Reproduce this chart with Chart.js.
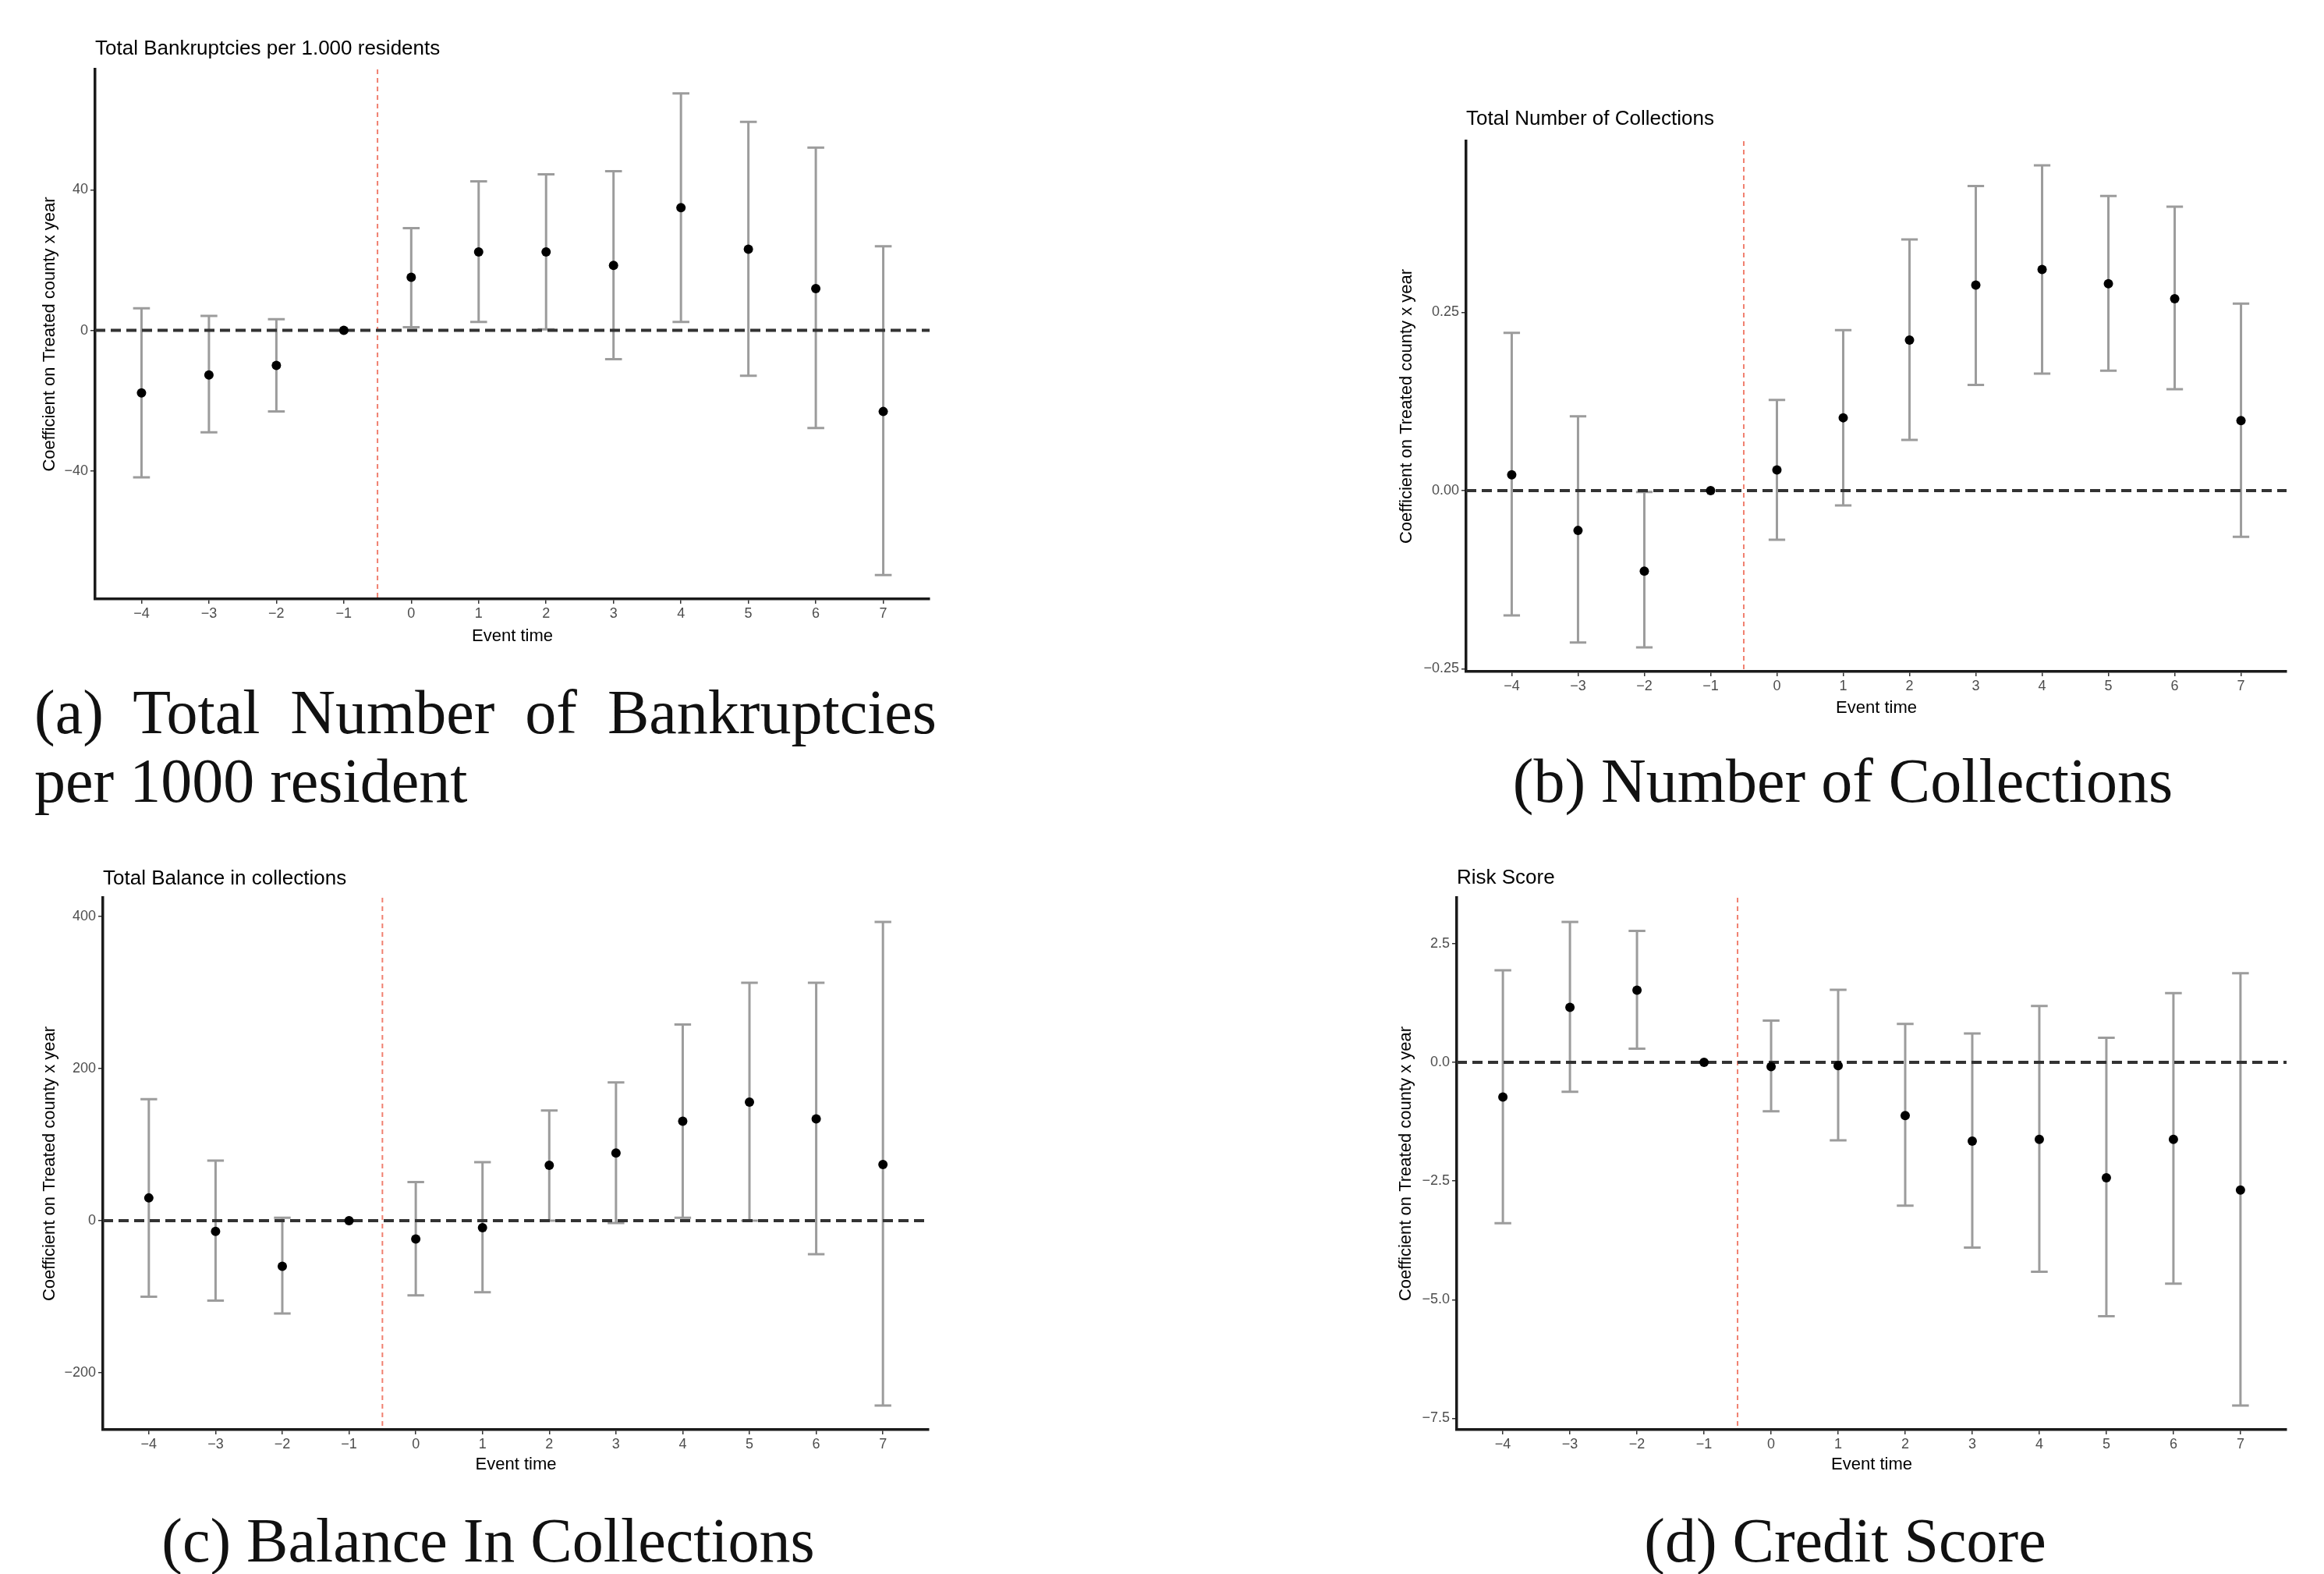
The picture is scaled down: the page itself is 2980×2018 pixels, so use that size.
<!DOCTYPE html>
<html>
<head>
<meta charset="utf-8">
<title>Event study figures</title>
<script src="https://cdn.jsdelivr.net/npm/chart.js@4.4.1/dist/chart.umd.min.js"></script>
<style>
  html, body { margin: 0; padding: 0; background: #fff; }
  #page { position: relative; width: 2980px; height: 2018px; overflow: hidden; background: #fff; }
  canvas { position: absolute; }
  .caption { position: absolute; font-family: 'Liberation Serif', 'Times New Roman', serif; font-size: 80px; line-height: 88px; color: #111; white-space: nowrap; }
  .justify { text-align: justify; text-align-last: justify; }
  .center { text-align: center; }
</style>
</head>
<body>
<div id="page">
  <div class="caption justify" style="left:44px;top:869px;width:1157px;">(a) Total Number of Bankruptcies</div>
  <div class="caption" style="left:44px;top:957px;">per 1000 resident</div>
  <div class="caption center" style="left:1863px;top:957px;width:1000px;">(b) Number of Collections</div>
  <div class="caption center" style="left:126px;top:1931px;width:1000px;">(c) Balance In Collections</div>
  <div class="caption center" style="left:1866px;top:1931px;width:1000px;">(d) Credit Score</div>
</div>
<script>
// event time on the x axis
const eventTime = [-4, -3, -2, -1, 0, 1, 2, 3, 4, 5, 6, 7];

// (a) bankruptcies per 1,000 residents
const bkCoef = [-17.8, -12.7, -10.0, 0, 15.1, 22.3, 22.3, 18.5, 34.9, 23.1, 11.9, -23.1];
const bkLow  = [-41.8, -29.0, -23.1, null, 0.9, 2.4, 0.3, -8.2, 2.4, -12.9, -27.8, -69.6];
const bkHigh = [6.3, 4.1, 3.2, null, 29.1, 42.4, 44.4, 45.3, 67.4, 59.3, 52.0, 23.9];
const bkTicks = [-40, 0, 40];
const bkTickLabels = ['\u221240', '0', '40'];

// (b) number of collections
const colCoef = [0.022, -0.056, -0.113, 0, 0.029, 0.102, 0.211, 0.288, 0.310, 0.290, 0.269, 0.098];
const colLow  = [-0.175, -0.213, -0.220, null, -0.069, -0.021, 0.071, 0.148, 0.164, 0.168, 0.142, -0.065];
const colHigh = [0.221, 0.104, -0.002, null, 0.127, 0.225, 0.352, 0.427, 0.456, 0.413, 0.398, 0.262];
const colTicks = [-0.25, 0, 0.25];
const colTickLabels = ['\u22120.25', '0.00', '0.25'];

// (c) balance in collections
const balCoef = [30, -14, -60, 0, -24, -9, 73, 89, 131, 156, 134, 74];
const balLow  = [-100, -105, -122, null, -98, -94, 0, -3, 4, 0, -44, -243];
const balHigh = [160, 79, 4, null, 51, 77, 145, 182, 258, 313, 313, 393];
const balTicks = [-200, 0, 200, 400];
const balTickLabels = ['\u2212200', '0', '200', '400'];

// (d) risk score
const rsCoef = [-0.73, 1.16, 1.52, 0, -0.09, -0.07, -1.12, -1.66, -1.62, -2.43, -1.62, -2.69];
const rsLow  = [-3.39, -0.62, 0.29, null, -1.03, -1.64, -3.02, -3.90, -4.41, -5.35, -4.66, -7.23];
const rsHigh = [1.94, 2.96, 2.77, null, 0.88, 1.53, 0.81, 0.61, 1.19, 0.52, 1.46, 1.88];
const rsTicks = [-7.5, -5, -2.5, 0, 2.5];
const rsTickLabels = ['\u22127.5', '\u22125.0', '\u22122.5', '0.0', '2.5'];

const xAxisTitle = 'Event time';
const yAxisTitle = 'Coefficient on Treated county x year';

const TITLE_SIZE = 26;
const AXIS_TITLE_SIZE = 22;
const TICK_SIZE = 18;
const TICK_COLOR = '#4d4d4d';
const CAP = 0.125;          // half width of the error bar caps, in event-time units
const TREAT_LINE = -0.5;
const X_MIN = -4.6875, X_MAX = 7.6875;

Chart.defaults.font.family = "'Liberation Sans', Arial, Helvetica, sans-serif";

const panels = [
    {
        title: 'Total Bankruptcies per 1.000 residents',
        coef: bkCoef, low: bkLow, high: bkHigh, ticks: bkTicks, tickLabels: bkTickLabels,
        box: {left: 0, top: 30, width: 1230, height: 820},
        area: {left: 122, top: 89, right: 1192, bottom: 768},
        titleY: 63, xTitleY: 816, yTitleX: 64
    },
    {
        title: 'Total Number of Collections',
        coef: colCoef, low: colLow, high: colHigh, ticks: colTicks, tickLabels: colTickLabels,
        box: {left: 1740, top: 110, width: 1240, height: 830},
        area: {left: 1880, top: 181, right: 2932, bottom: 861},
        titleY: 153, xTitleY: 908, yTitleX: 1804
    },
    {
        title: 'Total Balance in collections',
        coef: balCoef, low: balLow, high: balHigh, ticks: balTicks, tickLabels: balTickLabels,
        box: {left: 0, top: 1090, width: 1230, height: 830},
        area: {left: 132, top: 1151, right: 1191, bottom: 1833},
        titleY: 1127, xTitleY: 1878, yTitleX: 64
    },
    {
        title: 'Risk Score',
        coef: rsCoef, low: rsLow, high: rsHigh, ticks: rsTicks, tickLabels: rsTickLabels,
        box: {left: 1740, top: 1090, width: 1240, height: 830},
        area: {left: 1868, top: 1151, right: 2932, bottom: 1833},
        titleY: 1126, xTitleY: 1878, yTitleX: 1803
    }
];

function minus(v) {
    return String(v).replace('-', '\u2212');
}

// error bars, the treatment line and the zero line, drawn under the points
function markingsPlugin(p) {
    return {
        id: 'markings',
        beforeDatasetsDraw(chart) {
            const {ctx, chartArea: a, scales: {x, y}} = chart;
            ctx.save();

            ctx.strokeStyle = '#9c9c9c';
            ctx.lineWidth = 3;
            ctx.setLineDash([]);
            eventTime.forEach((t, i) => {
                if (p.low[i] === null) return;
                const px = x.getPixelForValue(t);
                const x0 = x.getPixelForValue(t - CAP);
                const x1 = x.getPixelForValue(t + CAP);
                const y0 = y.getPixelForValue(p.low[i]);
                const y1 = y.getPixelForValue(p.high[i]);
                ctx.beginPath();
                ctx.moveTo(px, y0);
                ctx.lineTo(px, y1);
                ctx.moveTo(x0, y0);
                ctx.lineTo(x1, y0);
                ctx.moveTo(x0, y1);
                ctx.lineTo(x1, y1);
                ctx.stroke();
            });

            const vx = x.getPixelForValue(TREAT_LINE);
            ctx.strokeStyle = 'rgba(236, 96, 76, 0.8)';
            ctx.lineWidth = 2;
            ctx.setLineDash([6, 5]);
            ctx.beginPath();
            ctx.moveTo(vx, a.top);
            ctx.lineTo(vx, a.bottom);
            ctx.stroke();

            const hy = y.getPixelForValue(0);
            ctx.strokeStyle = '#333';
            ctx.lineWidth = 4;
            ctx.setLineDash([13, 7]);
            ctx.beginPath();
            ctx.moveTo(a.left, hy);
            ctx.lineTo(a.right, hy);
            ctx.stroke();

            ctx.restore();
        }
    };
}

function makeChart(p) {
    const canvas = document.createElement('canvas');
    canvas.width = p.box.width;
    canvas.height = p.box.height;
    canvas.style.left = p.box.left + 'px';
    canvas.style.top = p.box.top + 'px';
    canvas.style.width = p.box.width + 'px';
    canvas.style.height = p.box.height + 'px';
    document.getElementById('page').appendChild(canvas);

    const titleLine = TITLE_SIZE * 1.2;
    const axisLine = AXIS_TITLE_SIZE * 1.2;
    const titleTop = p.titleY - p.box.top - titleLine / 2;
    const titleBottom = p.area.top - p.box.top - titleTop - titleLine;
    const yWidth = p.area.left - p.box.left;
    const xHeight = p.box.top + p.box.height - p.area.bottom;

    // ggplot-like 5% expansion of the y range
    const values = p.coef.concat(p.low, p.high).filter(v => v !== null);
    const lo = Math.min(...values);
    const hi = Math.max(...values);
    const pad = (hi - lo) * 0.05;

    return new Chart(canvas, {
        type: 'scatter',
        data: {
            datasets: [{
                data: eventTime.map((t, i) => ({x: t, y: p.coef[i]})),
                backgroundColor: '#000',
                borderColor: '#000',
                pointRadius: 6,
                pointHoverRadius: 6,
                borderWidth: 0
            }]
        },
        options: {
            responsive: false,
            animation: false,
            events: [],
            layout: {padding: {left: 0, top: 0, bottom: 0, right: p.box.left + p.box.width - p.area.right}},
            plugins: {
                legend: {display: false},
                tooltip: {enabled: false},
                title: {
                    display: true,
                    text: p.title,
                    align: 'start',
                    fullSize: false,
                    color: '#000',
                    font: {size: TITLE_SIZE, weight: 'normal'},
                    padding: {top: titleTop, bottom: titleBottom}
                }
            },
            scales: {
                x: {
                    type: 'linear',
                    min: X_MIN,
                    max: X_MAX,
                    afterBuildTicks: s => { s.ticks = eventTime.map(v => ({value: v})); },
                    afterFit: s => { s.height = xHeight; },
                    ticks: {
                        callback: v => minus(v),
                        color: TICK_COLOR,
                        font: {size: TICK_SIZE},
                        padding: 2,
                        maxRotation: 0,
                        autoSkip: false
                    },
                    grid: {display: true, drawOnChartArea: false, drawTicks: true, tickLength: 6, color: '#333', lineWidth: 1.5},
                    border: {display: true, color: '#1a1a1a', width: 3.5},
                    title: {
                        display: true,
                        text: xAxisTitle,
                        color: '#000',
                        font: {size: AXIS_TITLE_SIZE},
                        padding: {top: 0, bottom: p.box.top + p.box.height - p.xTitleY - axisLine / 2}
                    }
                },
                y: {
                    type: 'linear',
                    min: lo - pad,
                    max: hi + pad,
                    afterBuildTicks: s => { s.ticks = p.ticks.map(v => ({value: v})); },
                    afterFit: s => { s.width = yWidth; },
                    ticks: {
                        callback: v => p.tickLabels[p.ticks.indexOf(v)],
                        color: TICK_COLOR,
                        font: {size: TICK_SIZE},
                        padding: 3,
                        autoSkip: false
                    },
                    grid: {display: true, drawOnChartArea: false, drawTicks: true, tickLength: 6, color: '#333', lineWidth: 1.5},
                    border: {display: true, color: '#1a1a1a', width: 3.5},
                    title: {
                        display: true,
                        text: yAxisTitle,
                        color: '#000',
                        font: {size: AXIS_TITLE_SIZE},
                        padding: {top: p.yTitleX - p.box.left - axisLine / 2, bottom: 0}
                    }
                }
            }
        },
        plugins: [markingsPlugin(p)]
    });
}

panels.forEach(makeChart);
</script>
</body>
</html>
